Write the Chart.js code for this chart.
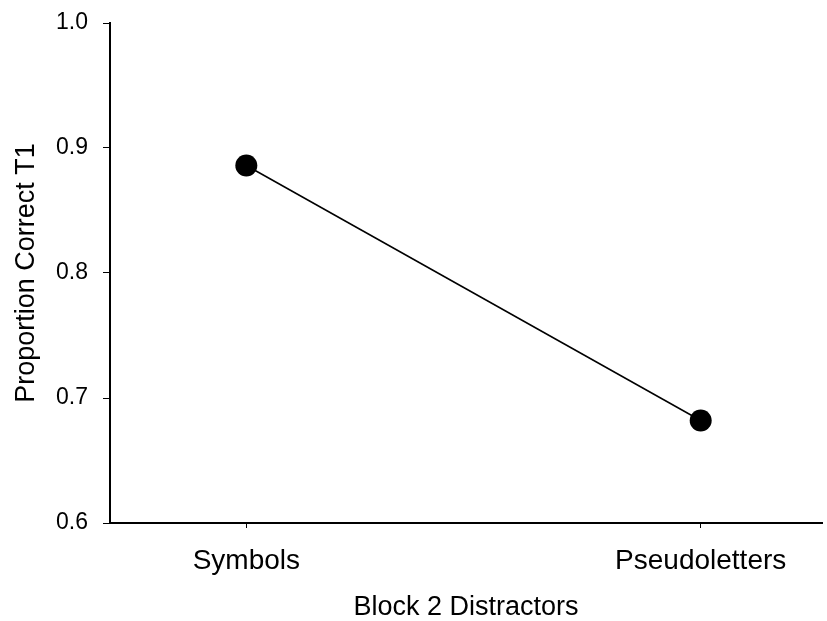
<!DOCTYPE html>
<html>
<head>
<meta charset="utf-8">
<script src="https://cdn.jsdelivr.net/npm/chart.js@4/dist/chart.umd.min.js"></script>
<style>
  body { margin: 0; background: #fff; }
  canvas { display: block; }
</style>
</head>
<body>
<canvas id="t1_chart" width="827" height="621"></canvas>
<script>
// data
let categories = ["Symbols", "Pseudoletters"];
let proportionCorrect = [0.886, 0.682];
let yTicks = [0.6, 0.7, 0.8, 0.9, 1.0];

let points = categories.map(function (c, i) {
    return {x: i + 1, y: proportionCorrect[i]};
});

Chart.defaults.font.family = "'Liberation Sans', Arial, sans-serif";
Chart.defaults.color = "#000";

new Chart("t1_chart", {
    type: "line",
    data: {
        datasets: [{
            data: points,
            borderColor: "#000",
            borderWidth: 1.5,
            backgroundColor: "#000",
            pointBackgroundColor: "#000",
            pointBorderColor: "#000",
            pointRadius: 11,
            pointBorderWidth: 0,
            fill: false,
            tension: 0
        }]
    },
    options: {
        responsive: false,
        animation: false,
        layout: {autoPadding: false, padding: {top: 23, right: 5, left: 0, bottom: 0}},
        plugins: {
            legend: {display: false},
            tooltip: {enabled: false}
        },
        scales: {
            x: {
                type: "linear",
                min: 0.7,
                max: 2.267,
                afterBuildTicks: function (scale) {
                    scale.ticks = categories.map(function (c, i) { return {value: i + 1}; });
                },
                afterFit: function (scale) {
                    scale.height = 98;
                    scale.paddingLeft = 0;
                    scale.paddingRight = 0;
                },
                ticks: {
                    padding: 16,
                    font: {size: 28},
                    callback: function (v) { return categories[v - 1]; }
                },
                grid: {drawOnChartArea: false, drawTicks: true, tickLength: 5, color: "#000", lineWidth: 1},
                border: {display: true, color: "#000", width: 2},
                title: {
                    display: true,
                    text: "Block 2 Distractors",
                    font: {size: 27, lineHeight: 1},
                    padding: {top: 0, bottom: 0}
                }
            },
            y: {
                min: 0.6,
                max: 1.0,
                afterBuildTicks: function (scale) {
                    scale.ticks = yTicks.map(function (v) { return {value: v}; });
                },
                afterFit: function (scale) {
                    scale.width = 110;
                    scale.paddingTop = 0;
                    scale.paddingBottom = 0;
                },
                ticks: {
                    padding: 15,
                    font: {size: 23},
                    callback: function (v) { return v.toFixed(1); }
                },
                grid: {drawOnChartArea: false, drawTicks: true, tickLength: 7, color: "#000", lineWidth: 1},
                border: {display: true, color: "#000", width: 2},
                title: {
                    display: true,
                    text: "Proportion Correct T1",
                    font: {size: 27, lineHeight: 1},
                    padding: {top: 13, bottom: 0}
                }
            }
        }
    }
});
</script>
</body>
</html>
